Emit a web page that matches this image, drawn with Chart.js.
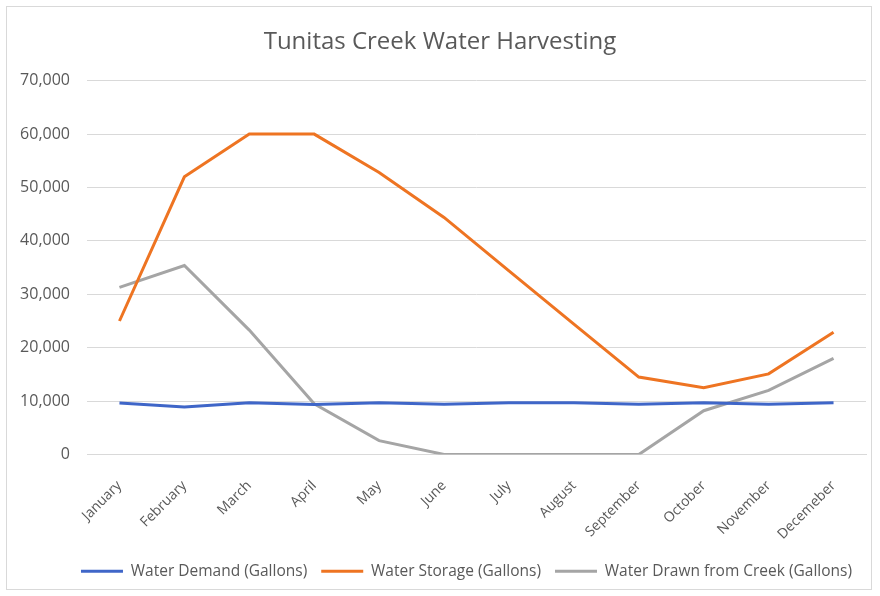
<!DOCTYPE html>
<html>
<head>
<meta charset="utf-8">
<title>Tunitas Creek Water Harvesting</title>
<script src="https://cdn.jsdelivr.net/npm/chart.js@4.4.1/dist/chart.umd.min.js"></script>
<style>
  html, body { margin: 0; padding: 0; background: #fff; }
  .wrap { position: relative; width: 880px; height: 596px; }
  .frame { position: absolute; left: 6px; top: 6px; width: 864px; height: 582px; border: 1px solid #d9d9d9; pointer-events: none; }
</style>
</head>
<body>
<div class="wrap">
  <canvas id="chart" width="880" height="596"></canvas>
  <div class="frame"></div>
</div>
<script>
// Data (gallons)
const months = ['January', 'February', 'March', 'April', 'May', 'June', 'July', 'August', 'September', 'October', 'November', 'Decemeber'];
const demand = [9650, 8900, 9700, 9350, 9700, 9400, 9700, 9700, 9400, 9700, 9400, 9700];
const storage = [25000, 52000, 60000, 60000, 52800, 44400, 34400, 24400, 14500, 12500, 15100, 22900];
const drawn = [31300, 35400, 23300, 9500, 2600, 0, 0, 0, 0, 8200, 12000, 18000];
const yTicks = [0, 10000, 20000, 30000, 40000, 50000, 60000, 70000];

const textColor = '#595959';
const gridColor = '#d9d9d9';
const font = 'Open Sans';

const line = (label, data, color) => ({
  label,
  data,
  borderColor: color,
  backgroundColor: color,
  borderWidth: 3,
  pointRadius: 0,
  tension: 0,
  fill: false,
});

new Chart(document.getElementById('chart'), {
  type: 'line',
  data: {
    labels: months,
    datasets: [
      line('Water Demand (Gallons)', demand, '#3F66C8'),
      line('Water Storage (Gallons)', storage, '#EE7422'),
      line('Water Drawn from Creek (Gallons)', drawn, '#A5A5A5'),
    ],
  },
  options: {
    responsive: false,
    animation: false,
    layout: { padding: { left: 14, right: 14, top: 6, bottom: 7 } },
    plugins: {
      title: {
        display: true,
        text: 'Tunitas Creek Water Harvesting',
        color: textColor,
        font: { family: font, size: 24, weight: 'normal' },
        padding: { top: 21.5, bottom: 24.4 },
      },
      legend: {
        position: 'bottom',
        align: 'end',
        labels: {
          color: textColor,
          font: { family: font, size: 15.5 },
          usePointStyle: true,
          pointStyle: 'line',
          pointStyleWidth: 42,
          boxHeight: 3,
          padding: 14,
        },
      },
      tooltip: { enabled: false },
    },
    scales: {
      x: {
        offset: true,
        grid: { display: false },
        border: { color: gridColor },
        afterFit: axis => { axis.height = 95; },
        ticks: {
          color: textColor,
          font: { family: font, size: 14 },
          minRotation: 45,
          maxRotation: 45,
          padding: 15,
        },
      },
      y: {
        min: 0,
        max: 70000,
        afterBuildTicks: axis => { axis.ticks = yTicks.map(v => ({ value: v })); },
        afterFit: axis => { axis.width = 73; },
        grid: { color: gridColor, drawTicks: false },
        border: { display: false },
        ticks: {
          color: textColor,
          font: { family: font, size: 16 },
          padding: 17,
          callback: v => v.toLocaleString('en-US'),
        },
      },
    },
  },
});
</script>
</body>
</html>
